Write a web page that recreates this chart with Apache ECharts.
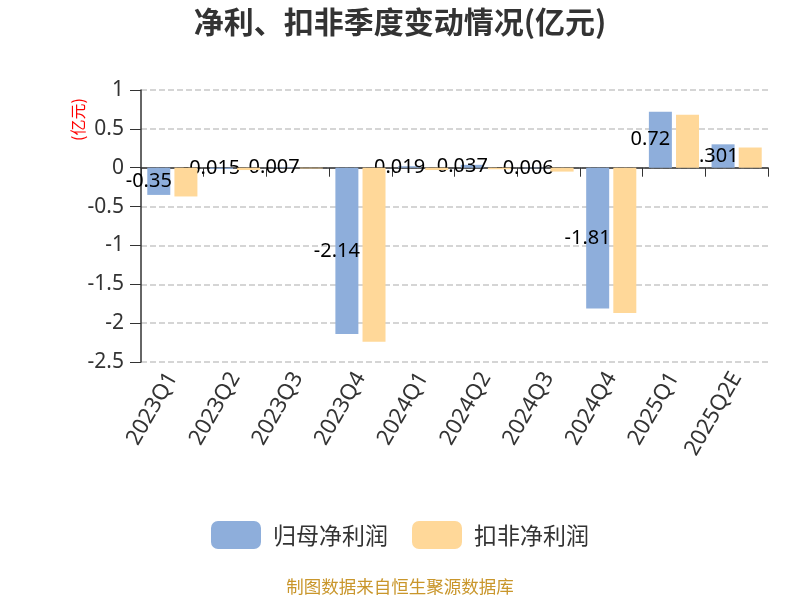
<!DOCTYPE html>
<html><head><meta charset="utf-8">
<script src="https://cdn.jsdelivr.net/npm/echarts@6/dist/echarts.min.js"></script>
<style>html,body{margin:0;padding:0;background:#fff}#c{width:800px;height:600px}</style>
</head><body><div id="c"></div>
<script>
const categories = ['2023Q1','2023Q2','2023Q3','2023Q4','2024Q1','2024Q2','2024Q3','2024Q4','2025Q1','2025Q2E'];
const netProfit = [-0.35, -0.015, 0.007, -2.14, 0.019, 0.037, -0.006, -1.81, 0.72, 0.301];
const deductedProfit = [-0.37, -0.03, -0.01, -2.24, -0.03, -0.02, -0.05, -1.87, 0.68, 0.26];
const yTicks = {min: -2.5, max: 1, interval: 0.5};

const FF = '"Noto Sans", "Noto Sans CJK SC"';
const CJK = 'Noto Sans CJK SC';
const chart = echarts.init(document.getElementById('c'));
chart.setOption({
  animation: false,
  textStyle: {fontFamily: FF},
  title: {text: '净利、扣非季度变动情况(亿元)', left: 'center', top: 2,
    textStyle: {fontSize: 30, fontWeight: 'bold', color: '#333', fontFamily: CJK}},
  grid: {left: 141, right: 32, top: 90, bottom: 238},
  legend: {bottom: 46, itemWidth: 50, itemHeight: 28, itemGap: 24,
    textStyle: {fontSize: 23, color: '#333', fontFamily: CJK, padding: [0, 0, 0, 7]},
    data: ['归母净利润', '扣非净利润']},
  graphic: [
    {type: 'text', left: 'center', top: 578, style: {text: '制图数据来自恒生聚源数据库', fill: '#c9962b', font: '17.5px "Noto Sans CJK SC"'}},
    {type: 'text', x: 70, y: 141, rotation: Math.PI / 2, style: {text: '(亿元)', fill: '#ff0000', font: '16px "Noto Sans CJK SC"'}}
  ],
  xAxis: {type: 'category', data: categories,
    axisLine: {onZero: true, lineStyle: {color: '#333', width: 1.5}},
    axisTick: {show: true, lineStyle: {color: '#333'}, length: 9},
    axisLabel: {rotate: 60, fontSize: 22, color: '#333', interval: 0, margin: 12, fontFamily: FF}},
  yAxis: {type: 'value', min: yTicks.min, max: yTicks.max, interval: yTicks.interval,
    axisLine: {show: true, lineStyle: {color: '#333', width: 1.5}},
    axisTick: {show: true, length: 11, lineStyle: {color: '#333'}},
    axisLabel: {fontSize: 21, color: '#333', margin: 17, fontFamily: FF},
    splitLine: {lineStyle: {type: 'dashed', color: '#c8c8c8', width: 1.5}}},
  series: [
    {name: '归母净利润', type: 'bar', data: netProfit, barWidth: 23, barGap: '18%',
      itemStyle: {color: '#8eaedb'}, z: 2,
      label: {show: true, position: 'inside', offset: [-10, 0], fontSize: 20, color: '#000', fontFamily: FF}},
    {name: '扣非净利润', type: 'bar', data: deductedProfit, barWidth: 23,
      itemStyle: {color: '#ffd899'}, z: 3}
  ]
});
</script></body></html>
